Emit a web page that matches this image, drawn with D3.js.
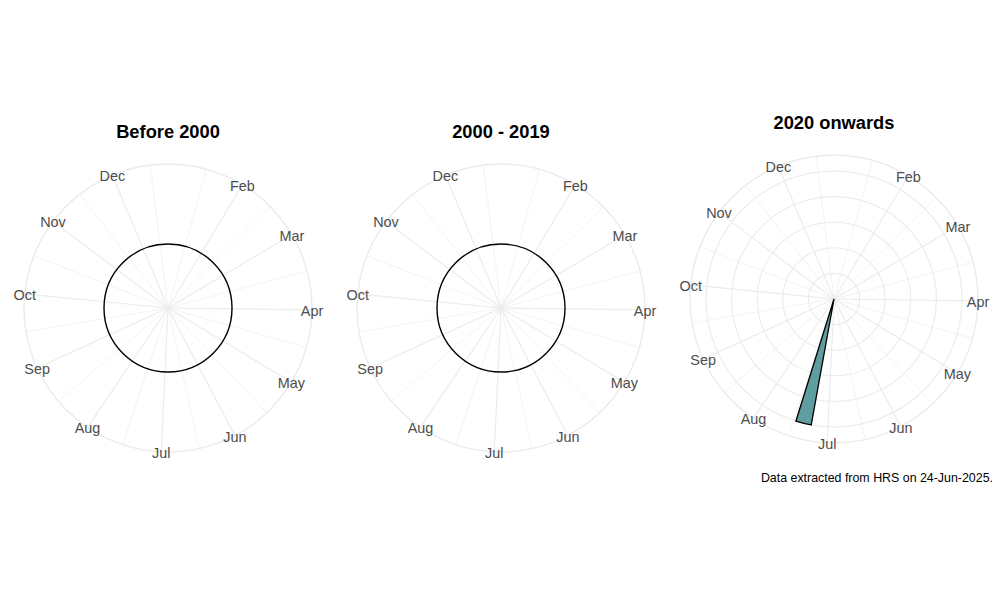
<!DOCTYPE html>
<html>
<head>
<meta charset="utf-8">
<script src="https://cdn.jsdelivr.net/npm/d3@7"></script>
<style>
  body { margin: 0; background: #fff; }
  svg { display: block; font-family: "Liberation Sans", Arial, sans-serif; }
</style>
</head>
<body>
<svg id="chart" width="1000" height="600"></svg>
<script>
(function () {
	'use strict';

	// panels (one plot per period)
	var panelTitles = ["Before 2000", "2000 - 2019", "2020 onwards"];

	// month breaks on the day-of-year axis (Jan falls off the start of the range)
	var monthLabels = ["Feb", "Mar", "Apr", "May", "Jun", "Jul", "Aug", "Sep", "Oct", "Nov", "Dec"];
	var monthStartDays = [32, 60, 91, 121, 152, 182, 213, 244, 274, 305, 335];
	var yearEdgeDays = [1, 366];

	// weekly histogram bins with a non-zero count, per panel
	var binStartDays = [[], [], [189.5]];
	var binCounts = [[], [], [1]];
	var binWidthDays = 7;

	var caption = "Data extracted from HRS on 24-Jun-2025.";

	var width = 1000, height = 600;
	var centers = [[168, 308], [501, 308], [834, 299]];
	var titleY = [138, 138, 129];
	var dataRadius = 128;               // radius of the largest count
	var outerRadius = dataRadius * 0.45 / 0.4;

	var svg = d3.select("#chart");
	svg.append("rect").attr("width", width).attr("height", height).attr("fill", "#fff");

	var theta = d3.scaleLinear().domain([1.2, 357.5]).range([0, 2 * Math.PI]);

	// minor breaks: halfway between month starts, Jan 1 on both ends included
	var allBreaks = [yearEdgeDays[0]].concat(monthStartDays, [yearEdgeDays[1]]);
	var minorDays = d3.pairs(allBreaks, function (a, b) { return (a + b) / 2; })
		.filter(function (d) { return d >= theta.domain()[0] && d <= theta.domain()[1]; });

	function px(a, r) { return r * Math.sin(a); }
	function py(a, r) { return -r * Math.cos(a); }

	panelTitles.forEach(function (title, i) {
		var g = svg.append("g").attr("transform", "translate(" + centers[i][0] + "," + centers[i][1] + ")");
		var maxCount = d3.max(binCounts[i]) || 0;
		var r = d3.scaleLinear().domain([0, maxCount]).range([0, dataRadius]);

		// minor spokes
		g.selectAll("line.minor")
			.data(minorDays)
			.enter()
			.append("line")
			.attr("class", "minor")
			.attr("x1", 0).attr("y1", 0)
			.attr("x2", function (d) { return px(theta(d), outerRadius); })
			.attr("y2", function (d) { return py(theta(d), outerRadius); })
			.attr("stroke", "#EBEBEB")
			.attr("stroke-width", 0.6);

		// radial gridlines (only when the count scale has a range)
		var rTicks = maxCount > 0 ? r.ticks(4).filter(function (t) { return t > 0; }) : [];
		g.selectAll("circle.rgrid")
			.data(rTicks)
			.enter()
			.append("circle")
			.attr("class", "rgrid")
			.attr("r", function (d) { return r(d); })
			.attr("fill", "none")
			.attr("stroke", "#EBEBEB")
			.attr("stroke-width", 1.1);

		// outer circle
		g.append("circle")
			.attr("r", outerRadius)
			.attr("fill", "none")
			.attr("stroke", "#EBEBEB")
			.attr("stroke-width", 1.4);

		// major spokes
		g.selectAll("line.major")
			.data(monthStartDays)
			.enter()
			.append("line")
			.attr("class", "major")
			.attr("x1", 0).attr("y1", 0)
			.attr("x2", function (d) { return px(theta(d), outerRadius); })
			.attr("y2", function (d) { return py(theta(d), outerRadius); })
			.attr("stroke", "#EBEBEB")
			.attr("stroke-width", 1.1);

		// zero-count bins across the whole range (a ring at r(0))
		var zeroArc = d3.arc()
			.innerRadius(r(0))
			.outerRadius(r(0))
			.startAngle(0)
			.endAngle(2 * Math.PI);
		if (r(0) > 0) {
			g.append("path")
				.attr("d", zeroArc())
				.attr("fill", "none")
				.attr("stroke", "#000")
				.attr("stroke-width", 1.4);
		}

		// bars
		var bar = d3.arc()
			.innerRadius(r(0))
			.outerRadius(function (d) { return r(d.count); })
			.startAngle(function (d) { return theta(d.start); })
			.endAngle(function (d) { return theta(d.start + binWidthDays); });
		g.selectAll("path.bar")
			.data(binStartDays[i].map(function (s, j) { return { start: s, count: binCounts[i][j] }; }))
			.enter()
			.append("path")
			.attr("class", "bar")
			.attr("d", bar)
			.attr("fill", "#5F9EA0")
			.attr("stroke", "#000")
			.attr("stroke-width", 1.3)
			.attr("stroke-linejoin", "miter");

		// month labels centred on the outer circle
		g.selectAll("text.month")
			.data(monthStartDays)
			.enter()
			.append("text")
			.attr("class", "month")
			.attr("x", function (d) { return px(theta(d), outerRadius); })
			.attr("y", function (d) { return py(theta(d), outerRadius) + 1; })
			.attr("text-anchor", "middle")
			.attr("dominant-baseline", "central")
			.attr("fill", "#4D4D4D")
			.style("font-size", "14.4px")
			.text(function (d, j) { return monthLabels[j]; });

		svg.append("text")
			.attr("x", centers[i][0])
			.attr("y", titleY[i])
			.attr("text-anchor", "middle")
			.attr("fill", "#000")
			.style("font-size", "18.3px")
			.style("font-weight", "bold")
			.text(title);
	});

	svg.append("text")
		.attr("x", 993)
		.attr("y", 482)
		.attr("text-anchor", "end")
		.attr("fill", "#000")
		.style("font-size", "12.4px")
		.text(caption);
}());
</script>
</body>
</html>
